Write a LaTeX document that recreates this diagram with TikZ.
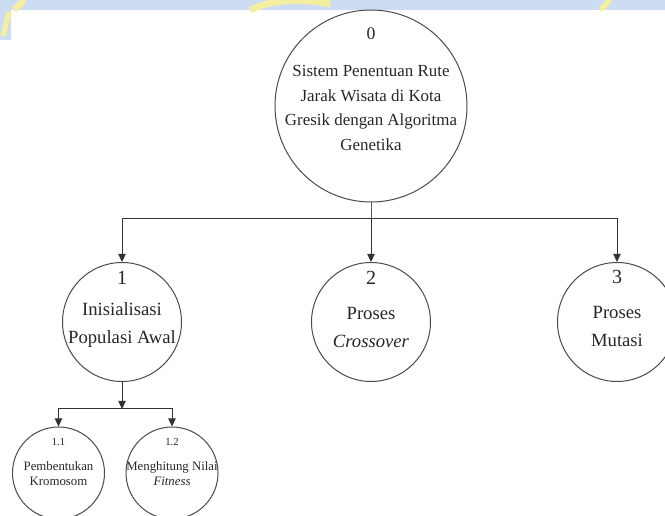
\documentclass[tikz,border=0pt]{standalone}
\usepackage{fontspec}
\setmainfont{Liberation Serif}
\usetikzlibrary{arrows.meta}
\definecolor{wmblue}{HTML}{CCDCF2}
\definecolor{wmyellow}{HTML}{F4EEA0}
\definecolor{ink}{HTML}{4A4A4A}
\tikzset{
  proc/.style={circle, draw=ink, line width=0.75pt, inner sep=0pt},
  txt/.style={align=center, inner sep=0pt, text=black!85},
  arr/.style={draw=black!80, line width=0.75pt, -{Triangle[length=6pt,width=5.5pt]}},
  ln/.style={draw=black!65, line width=0.75pt}
}
\begin{document}
\begin{tikzpicture}[x=0.75pt,y=-0.75pt]
\useasboundingbox (0,0) rectangle (665,516);
\clip (0,0) rectangle (665,516);
% watermark band
\fill[wmblue] (0,0) rectangle (665,10);
\fill[wmblue] (0,0) rectangle (11,40);
\draw[wmyellow, line width=5pt] (24,0) -- (14,10);
\draw[wmyellow, line width=4pt] (9,12) -- (3,36);
\draw[wmyellow, line width=5pt] (250,10) .. controls (270,0) and (300,-2) .. (330,4);
\draw[wmyellow, line width=4pt] (600,10) -- (610,0);

% circles
\node[proc, minimum size=192*0.75pt] (c0) at (371,106) {};
\node[proc, minimum size=119*0.75pt] (c1) at (122,322) {};
\node[proc, minimum size=119*0.75pt] (c2) at (371,322) {};
\node[proc, minimum size=119*0.75pt] (c3) at (617,322) {};
\node[proc, minimum size=92*0.75pt] (c11) at (58.5,473) {};
\node[proc, minimum size=92*0.75pt] (c12) at (172,473) {};

% labels
\node[txt, font=\fontsize{13.3}{16}\selectfont] (n0) at (371,34) {0};
\node[txt, font=\fontsize{12.7}{18.5}\selectfont] (t0) at (371,108)
  {Sistem Penentuan Rute\\Jarak Wisata di Kota\\Gresik dengan Algoritma\\Genetika};

\node[txt, font=\fontsize{15}{18}\selectfont] (n1) at (122,278) {1};
\node[txt, font=\fontsize{14}{21}\selectfont] (t1) at (122,325) {Inisialisasi\\Populasi Awal};
\node[txt, font=\fontsize{15}{18}\selectfont] (n2) at (371,278) {2};
\node[txt, font=\fontsize{14}{21}\selectfont] (t2) at (371,327) {Proses\\\textit{Crossover}};
\node[txt, font=\fontsize{15}{18}\selectfont] (n3) at (617,277) {3};
\node[txt, font=\fontsize{14}{21}\selectfont] (t3) at (617,326) {Proses\\Mutasi};

\node[txt, font=\fontsize{8}{10}\selectfont] (n11) at (58.5,442) {1.1};
\node[txt, font=\fontsize{9.6}{11.3}\selectfont] (t11) at (58.5,474) {Pembentukan\\Kromosom};
\node[txt, font=\fontsize{8}{10}\selectfont] (n12) at (172,442) {1.2};
\node[txt, font=\fontsize{9.6}{11.3}\selectfont] (t12) at (172,474) {Menghitung Nilai\\\textit{Fitness}};

% connectors
\coordinate (j0) at (371,219);
\coordinate (j1) at (122,409);
\draw[ln] (c0.south) -- (j0);
\draw[arr] (j0) -| (c1.north);
\draw[arr] (j0) -- (c2.north);
\draw[arr] (j0) -| (c3.north);
\draw[arr] (c1.south) -- (j1);
\draw[arr] (j1) -| (c11.north);
\draw[arr] (j1) -| (c12.north);
\end{tikzpicture}
\end{document}
